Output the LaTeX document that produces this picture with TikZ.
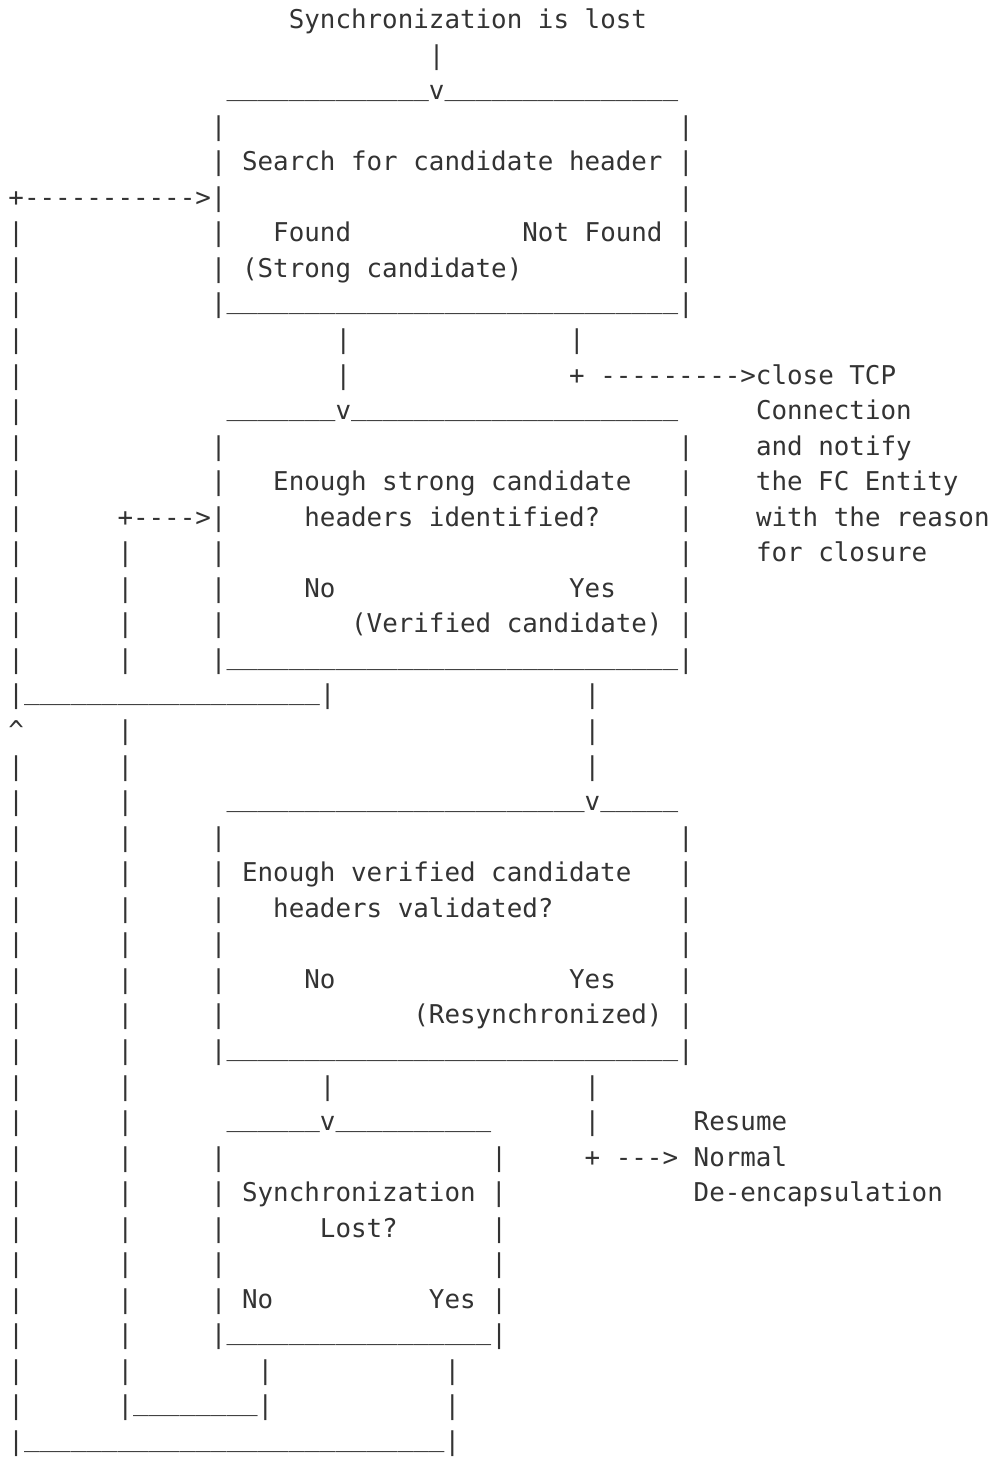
\documentclass[tikz,border=0pt]{standalone}
\usepackage{fontspec}
\setmonofont{DejaVu Sans Mono}
\definecolor{ink}{HTML}{333333}
\newcommand\UsOne{\raisebox{3pt}{\_}}
\ExplSyntaxOn
\NewDocumentCommand\Sp{m}{\prg_replicate:nn{#1}{\nobreakspace}}
\NewDocumentCommand\Us{m}{\prg_replicate:nn{#1}{\UsOne}}
\NewDocumentCommand\Ds{m}{\prg_replicate:nn{#1}{-}}
\ExplSyntaxOff
\newcommand\Ly[1]{28.5+35.55*(#1-1)}
\tikzset{
  asciiline/.style={anchor=base west, inner sep=0pt, outer sep=0pt, text=ink,
    font=\ttfamily\fontsize{19.4pt}{23pt}\selectfont}
}
\begin{document}
\begin{tikzpicture}[x=0.75pt,y=-0.75pt]
\fill[white] (0,0) rectangle (997,1458);
\useasboundingbox (0,0) rectangle (997,1458);
\node[asciiline] (l1) at (8.5,{\Ly{1}}) {\Sp{18}Synchronization is lost};
\node[asciiline] (l2) at (8.5,{\Ly{2}}) {\Sp{27}|};
\node[asciiline] (l3) at (8.5,{\Ly{3}}) {\Sp{14}\Us{13}v\Us{15}};
\node[asciiline] (l4) at (8.5,{\Ly{4}}) {\Sp{13}|\Sp{29}|};
\node[asciiline] (l5) at (8.5,{\Ly{5}}) {\Sp{13}| Search for candidate header |};
\node[asciiline] (l6) at (8.5,{\Ly{6}}) {+\Ds{11}>|\Sp{29}|};
\node[asciiline] (l7) at (8.5,{\Ly{7}}) {|\Sp{12}|\Sp{3}Found\Sp{11}Not Found |};
\node[asciiline] (l8) at (8.5,{\Ly{8}}) {|\Sp{12}| (Strong candidate)\Sp{10}|};
\node[asciiline] (l9) at (8.5,{\Ly{9}}) {|\Sp{12}|\Us{29}|};
\node[asciiline] (l10) at (8.5,{\Ly{10}}) {|\Sp{20}|\Sp{14}|};
\node[asciiline] (l11) at (8.5,{\Ly{11}}) {|\Sp{20}|\Sp{14}+ \Ds{9}>close TCP};
\node[asciiline] (l12) at (8.5,{\Ly{12}}) {|\Sp{13}\Us{7}v\Us{21}\Sp{5}Connection};
\node[asciiline] (l13) at (8.5,{\Ly{13}}) {|\Sp{12}|\Sp{29}|\Sp{4}and notify};
\node[asciiline] (l14) at (8.5,{\Ly{14}}) {|\Sp{12}|\Sp{3}Enough strong candidate\Sp{3}|\Sp{4}the FC Entity};
\node[asciiline] (l15) at (8.5,{\Ly{15}}) {|\Sp{6}+\Ds{4}>|\Sp{5}headers identified?\Sp{5}|\Sp{4}with the reason};
\node[asciiline] (l16) at (8.5,{\Ly{16}}) {|\Sp{6}|\Sp{5}|\Sp{29}|\Sp{4}for closure};
\node[asciiline] (l17) at (8.5,{\Ly{17}}) {|\Sp{6}|\Sp{5}|\Sp{5}No\Sp{15}Yes\Sp{4}|};
\node[asciiline] (l18) at (8.5,{\Ly{18}}) {|\Sp{6}|\Sp{5}|\Sp{8}(Verified candidate) |};
\node[asciiline] (l19) at (8.5,{\Ly{19}}) {|\Sp{6}|\Sp{5}|\Us{29}|};
\node[asciiline] (l20) at (8.5,{\Ly{20}}) {|\Us{19}|\Sp{16}|};
\node[asciiline] (l21) at (8.5,{\Ly{21}}) {\textasciicircum\Sp{6}|\Sp{29}|};
\node[asciiline] (l22) at (8.5,{\Ly{22}}) {|\Sp{6}|\Sp{29}|};
\node[asciiline] (l23) at (8.5,{\Ly{23}}) {|\Sp{6}|\Sp{6}\Us{23}v\Us{5}};
\node[asciiline] (l24) at (8.5,{\Ly{24}}) {|\Sp{6}|\Sp{5}|\Sp{29}|};
\node[asciiline] (l25) at (8.5,{\Ly{25}}) {|\Sp{6}|\Sp{5}| Enough verified candidate\Sp{3}|};
\node[asciiline] (l26) at (8.5,{\Ly{26}}) {|\Sp{6}|\Sp{5}|\Sp{3}headers validated?\Sp{8}|};
\node[asciiline] (l27) at (8.5,{\Ly{27}}) {|\Sp{6}|\Sp{5}|\Sp{29}|};
\node[asciiline] (l28) at (8.5,{\Ly{28}}) {|\Sp{6}|\Sp{5}|\Sp{5}No\Sp{15}Yes\Sp{4}|};
\node[asciiline] (l29) at (8.5,{\Ly{29}}) {|\Sp{6}|\Sp{5}|\Sp{12}(Resynchronized) |};
\node[asciiline] (l30) at (8.5,{\Ly{30}}) {|\Sp{6}|\Sp{5}|\Us{29}|};
\node[asciiline] (l31) at (8.5,{\Ly{31}}) {|\Sp{6}|\Sp{12}|\Sp{16}|};
\node[asciiline] (l32) at (8.5,{\Ly{32}}) {|\Sp{6}|\Sp{6}\Us{6}v\Us{10}\Sp{6}|\Sp{6}Resume};
\node[asciiline] (l33) at (8.5,{\Ly{33}}) {|\Sp{6}|\Sp{5}|\Sp{17}|\Sp{5}+ \Ds{3}> Normal};
\node[asciiline] (l34) at (8.5,{\Ly{34}}) {|\Sp{6}|\Sp{5}| Synchronization |\Sp{12}De-encapsulation};
\node[asciiline] (l35) at (8.5,{\Ly{35}}) {|\Sp{6}|\Sp{5}|\Sp{6}Lost?\Sp{6}|};
\node[asciiline] (l36) at (8.5,{\Ly{36}}) {|\Sp{6}|\Sp{5}|\Sp{17}|};
\node[asciiline] (l37) at (8.5,{\Ly{37}}) {|\Sp{6}|\Sp{5}| No\Sp{10}Yes |};
\node[asciiline] (l38) at (8.5,{\Ly{38}}) {|\Sp{6}|\Sp{5}|\Us{17}|};
\node[asciiline] (l39) at (8.5,{\Ly{39}}) {|\Sp{6}|\Sp{8}|\Sp{11}|};
\node[asciiline] (l40) at (8.5,{\Ly{40}}) {|\Sp{6}|\Us{8}|\Sp{11}|};
\node[asciiline] (l41) at (8.5,{\Ly{41}}) {|\Us{27}|};
\end{tikzpicture}
\end{document}
